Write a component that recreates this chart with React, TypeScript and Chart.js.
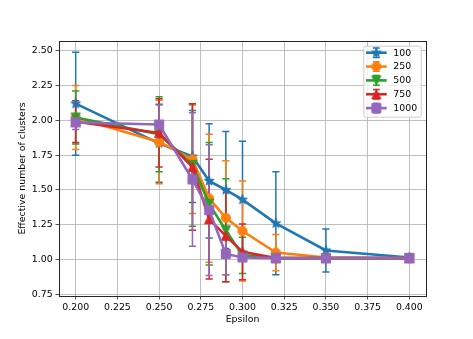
import React, { useEffect, useRef } from 'react';
import { Chart, registerables } from 'chart.js';

Chart.register(...registerables);

// ---------- data ----------
const epsilon = [0.2, 0.25, 0.27, 0.28, 0.29, 0.3, 0.32, 0.35, 0.4];
const seriesLabels = ['100', '250', '500', '750', '1000'];

const mean100 = [2.12, 1.835, 1.74, 1.565, 1.5, 1.43, 1.26, 1.065, 1.015];
const err100 = [0.37, 0.28, 0.33, 0.41, 0.42, 0.42, 0.37, 0.155, 0.02];

const mean250 = [2.02, 1.845, 1.72, 1.44, 1.3, 1.205, 1.05, 1.015, 1.01];
const err250 = [0.23, 0.3, 0.39, 0.46, 0.41, 0.36, 0.13, 0.02, 0.01];

const mean500 = [2.02, 1.9, 1.68, 1.4, 1.21, 1.03, 1.01, 1.01, 1.01];
const err500 = [0.19, 0.27, 0.44, 0.44, 0.37, 0.13, 0.01, 0.01, 0.01];

const mean750 = [1.99, 1.91, 1.665, 1.29, 1.17, 1.055, 1.01, 1.01, 1.01];
const err750 = [0.15, 0.245, 0.455, 0.43, 0.33, 0.2, 0.01, 0.01, 0.01];

const mean1000 = [1.985, 1.97, 1.575, 1.355, 1.04, 1.015, 1.01, 1.01, 1.01];
const err1000 = [0.05, 0.14, 0.48, 0.47, 0.15, 0.02, 0.01, 0.01, 0.01];

const xTicks = [0.2, 0.225, 0.25, 0.275, 0.3, 0.325, 0.35, 0.375, 0.4];
const yTicks = [0.75, 1.0, 1.25, 1.5, 1.75, 2.0, 2.25, 2.5];

const xLabel = 'Epsilon';
const yLabel = 'Effective number of clusters';

// ---------- styles ----------
const colors = ['#1f77b4', '#ff7f0e', '#2ca02c', '#d62728', '#9467bd'];
const shapes = ['star', 'circle', 'tdown', 'tup', 'square'];
const FONT = 'DejaVu Sans';
const FS = 9.4;

function makeMarker(shape: string, color: string): HTMLCanvasElement {
  const s = 14;
  const c = document.createElement('canvas');
  c.width = s;
  c.height = s;
  const ctx = c.getContext('2d')!;
  const h = s / 2;
  const r = 4.6;
  ctx.fillStyle = color;
  ctx.strokeStyle = color;
  ctx.lineWidth = 1;
  ctx.lineJoin = 'miter';
  ctx.beginPath();
  if (shape === 'star') {
    const R = 5.2;
    for (let i = 0; i < 10; i++) {
      const a = -Math.PI / 2 + (i * Math.PI) / 5;
      const rr = i % 2 === 0 ? R : R * 0.381966;
      ctx.lineTo(h + rr * Math.cos(a), h + rr * Math.sin(a));
    }
    ctx.closePath();
  } else if (shape === 'circle') {
    ctx.arc(h, h, r, 0, Math.PI * 2);
  } else if (shape === 'tdown') {
    ctx.moveTo(h - r, h - r);
    ctx.lineTo(h + r, h - r);
    ctx.lineTo(h, h + r);
    ctx.closePath();
  } else if (shape === 'tup') {
    ctx.moveTo(h - r, h + r);
    ctx.lineTo(h + r, h + r);
    ctx.lineTo(h, h - r);
    ctx.closePath();
  } else {
    ctx.rect(h - r, h - r, 2 * r, 2 * r);
  }
  ctx.fill();
  ctx.stroke();
  return c;
}

const errorBarPlugin = {
  id: 'errorBars',
  beforeDatasetsDraw(chart: any) {
    const { ctx } = chart;
    const xs = chart.scales.x;
    const ys = chart.scales.y;
    ctx.save();
    chart.data.datasets.forEach((ds: any) => {
      ctx.strokeStyle = ds.borderColor;
      ctx.lineWidth = 1.5;
      ds.data.forEach((p: any, j: number) => {
        const e = ds.errors[j];
        const px = xs.getPixelForValue(p.x);
        const top = ys.getPixelForValue(p.y + e);
        const bot = ys.getPixelForValue(p.y - e);
        ctx.beginPath();
        ctx.moveTo(px, top);
        ctx.lineTo(px, bot);
        ctx.moveTo(px - 3.6, top);
        ctx.lineTo(px + 3.6, top);
        ctx.moveTo(px - 3.6, bot);
        ctx.lineTo(px + 3.6, bot);
        ctx.stroke();
      });
    });
    ctx.restore();
  },
};

const frameLegendPlugin = {
  id: 'frameLegend',
  afterDraw(chart: any) {
    const { ctx, chartArea } = chart;
    ctx.save();
    // spines
    ctx.strokeStyle = '#262626';
    ctx.lineWidth = 1;
    ctx.strokeRect(
      Math.round(chartArea.left) + 0.5,
      Math.round(chartArea.top) + 0.5,
      Math.round(chartArea.right - chartArea.left),
      Math.round(chartArea.bottom - chartArea.top)
    );
    // legend
    const bx = chartArea.right - 62.7;
    const by = chartArea.top + 4.7;
    const bw = 57.4;
    const bh = 71;
    ctx.fillStyle = 'rgba(255,255,255,0.8)';
    ctx.strokeStyle = '#cccccc';
    ctx.lineWidth = 1;
    ctx.beginPath();
    (ctx as any).roundRect(bx + 0.5, by + 0.5, bw, bh, 2);
    ctx.fill();
    ctx.stroke();
    chart.data.datasets.forEach((ds: any, i: number) => {
      const cy = by + 7 + i * 13.85;
      const x0 = bx + 2.7;
      const x1 = bx + 23.4;
      const cx = (x0 + x1) / 2;
      ctx.strokeStyle = ds.borderColor;
      ctx.lineWidth = 1.5;
      ctx.beginPath();
      ctx.moveTo(cx, cy - 4.8);
      ctx.lineTo(cx, cy + 4.8);
      ctx.moveTo(cx - 3.4, cy - 4.8);
      ctx.lineTo(cx + 3.4, cy - 4.8);
      ctx.moveTo(cx - 3.4, cy + 4.8);
      ctx.lineTo(cx + 3.4, cy + 4.8);
      ctx.stroke();
      ctx.lineWidth = 2.6;
      ctx.beginPath();
      ctx.moveTo(x0, cy);
      ctx.lineTo(x1, cy);
      ctx.stroke();
      const img = ds.pointStyle as HTMLCanvasElement;
      ctx.drawImage(img, cx - img.width / 2, cy - img.height / 2);
      ctx.fillStyle = '#000';
      ctx.font = `${FS}px "${FONT}"`;
      ctx.textBaseline = 'middle';
      ctx.textAlign = 'left';
      ctx.fillText(ds.label, bx + 30, cy + 0.5);
    });
    ctx.restore();
  },
};

export default function App() {
  const ref = useRef<HTMLCanvasElement | null>(null);

  useEffect(() => {
    if (!ref.current) return;
    const means = [mean100, mean250, mean500, mean750, mean1000];
    const errs = [err100, err250, err500, err750, err1000];

    const datasets = seriesLabels.map((label, i) => {
      const marker = makeMarker(shapes[i], colors[i]);
      return {
        label,
        data: epsilon.map((x, j) => ({ x, y: means[i][j] })),
        errors: errs[i],
        borderColor: colors[i],
        backgroundColor: colors[i],
        borderWidth: 2.6,
        pointStyle: marker,
        pointRadius: 5,
        pointHoverRadius: 5,
        fill: false,
        tension: 0,
        order: seriesLabels.length - i,
      };
    });

    Chart.defaults.font.family = FONT;
    Chart.defaults.font.size = FS;
    Chart.defaults.color = '#000';

    const chart = new Chart(ref.current, {
      type: 'line',
      data: { datasets: datasets as any },
      options: {
        animation: false,
        responsive: false,
        events: [],
        layout: { padding: { top: 41, right: 47, left: 0, bottom: 0 } },
        plugins: {
          legend: { display: false },
          tooltip: { enabled: false },
        },
        scales: {
          x: {
            type: 'linear',
            min: 0.19,
            max: 0.41,
            afterBuildTicks: (s: any) => {
              s.ticks = xTicks.map((v) => ({ value: v }));
            },
            afterFit: (s: any) => {
              s.height = 43;
            },
            ticks: {
              callback: (v: any) => Number(v).toFixed(3),
              padding: 2,
              maxRotation: 0,
              autoSkip: false,
              color: '#000',
              font: { size: FS, family: FONT },
            },
            grid: {
              color: '#b0b0b0',
              lineWidth: 0.8,
              tickColor: '#262626',
              tickLength: 3.5,
              tickWidth: 0.8,
            },
            border: { display: true, color: '#262626', width: 1 },
            title: {
              display: true,
              text: xLabel,
              color: '#000',
              font: { size: FS, family: FONT },
              padding: { top: 0, bottom: 13.4 },
            },
          },
          y: {
            type: 'linear',
            min: 0.738,
            max: 2.57,
            afterBuildTicks: (s: any) => {
              s.ticks = yTicks.map((v) => ({ value: v }));
            },
            afterFit: (s: any) => {
              s.width = 59;
            },
            ticks: {
              callback: (v: any) => Number(v).toFixed(2),
              padding: 2.8,
              autoSkip: false,
              color: '#000',
              font: { size: FS, family: FONT },
            },
            grid: {
              color: '#b0b0b0',
              lineWidth: 0.8,
              tickColor: '#262626',
              tickLength: 3.5,
              tickWidth: 0.8,
            },
            border: { display: true, color: '#262626', width: 1 },
            title: {
              display: true,
              text: yLabel,
              color: '#000',
              font: { size: FS, family: FONT },
              padding: { top: 17, bottom: 0 },
            },
          },
        },
      },
      plugins: [errorBarPlugin, frameLegendPlugin],
    });

    return () => chart.destroy();
  }, []);

  return (
    <div style={{ position: 'absolute', left: 0, top: 0, width: 473, height: 339, background: '#fff' }}>
      <canvas ref={ref} width={473} height={339} style={{ width: 473, height: 339, display: 'block' }} />
    </div>
  );
}
